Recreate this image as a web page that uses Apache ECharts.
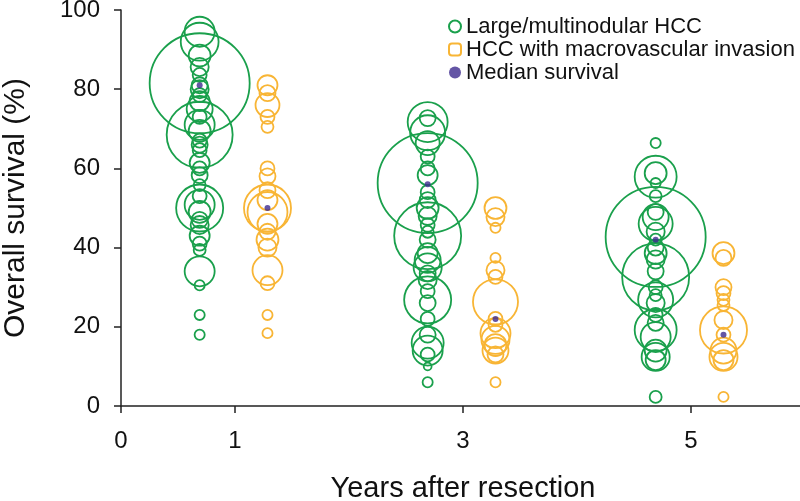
<!DOCTYPE html>
<html>
<head>
<meta charset="utf-8">
<script src="https://cdn.jsdelivr.net/npm/echarts@6/dist/echarts.min.js"></script>
<style>
  html, body { margin: 0; padding: 0; background: #fff; }
  #chart { width: 800px; height: 501px; }
</style>
</head>
<body>
<div id="chart"></div>
<script>
// Overall survival after resection: one bubble per study, bubble area ~ patients (n).
var years = [1, 3, 5];
var xTicks = [0, 1, 3, 5];

// Large/multinodular HCC: [survival %, n]
var largeYear1 = [[94.5, 88], [92, 140], [88.5, 47], [85.6, 32], [83.6, 19], [81.5, 977], [81, 25], [80, 32],
  [78.5, 19], [77, 39], [75, 66], [73, 19], [71, 88], [69.5, 47], [68.5, 425], [67, 19], [66, 25], [64.6, 19],
  [61.4, 39], [60, 19], [58.3, 25], [55.8, 14], [53, 19], [50.8, 88], [50, 216], [49, 47], [47, 25], [45.7, 32],
  [43, 39], [41, 19], [39.4, 14], [34, 88], [30.5, 10], [23, 10], [18, 10]];
var largeYear3 = [[72.7, 25], [71.7, 156], [69, 120], [66.4, 56], [63, 19], [60, 19], [58.3, 39], [56.3, 977],
  [54, 19], [52, 25], [50, 47], [48, 32], [45.7, 19], [44, 14], [43, 438], [42, 25], [38.6, 39], [36.9, 66],
  [35, 77], [33.5, 25], [31.8, 32], [29, 19], [26.8, 216], [26, 25], [22, 19], [18, 25], [16, 100], [14, 88],
  [13, 19], [10, 6], [6, 10]];
var largeYear5 = [[66.4, 10], [58.8, 47], [57.9, 172], [56.3, 10], [53, 14], [49, 25], [47.7, 66], [46, 113],
  [44, 32], [42.7, 977], [42, 14], [40, 25], [38.6, 47], [37, 32], [34, 25], [32.6, 438], [30, 19], [28, 14],
  [26.8, 120], [26, 32], [23, 19], [21, 25], [19.2, 172], [17.4, 88], [14, 47], [12.4, 77], [11.6, 39], [2.3, 14]];

// HCC with macrovascular invasion: [survival %, n]
var mviYear1 = [[81, 39], [79, 25], [76, 56], [73, 19], [70.5, 14], [60, 19], [58, 25], [54.5, 25], [52, 39],
  [50, 216], [49, 156], [46, 39], [44, 25], [42, 47], [40, 32], [34.3, 88], [31, 19], [23, 10], [18.4, 10]];
var mviYear3 = [[50, 47], [47.7, 32], [45, 10], [37.4, 10], [34.3, 32], [32.6, 19], [26.3, 198], [22, 19],
  [20.5, 19], [18.4, 88], [16.7, 77], [15.4, 47], [14, 66], [13, 25], [6, 10]];
var mviYear5 = [[38.6, 47], [37.4, 25], [30, 25], [28.5, 19], [26.8, 14], [25.5, 14], [21.7, 32], [19.2, 216],
  [18, 19], [14, 66], [12.4, 77], [11.6, 39], [2.3, 10]];

var largeMedian = [81, 56, 42];
var mviMedian = [50, 22, 18];

var GREEN = "#1aa04c", ORANGE = "#f8b535", PURPLE = "#3d2b8e";
var FONT = "Liberation Sans, Arial, sans-serif";
var LARGE_DX = -0.31, MVI_DX = 0.285;

function place(groups, dx) {
  var out = [];
  groups.forEach(function (g, i) {
    g.forEach(function (p) { out.push([years[i] + dx, p[0], p[1]]); });
  });
  return out;
}
function medians(vals, dx) {
  return vals.map(function (v, i) { return [years[i] + dx, v]; });
}
function size(v) { return 3.2 * Math.sqrt(v[2]); }

var chart = echarts.init(document.getElementById("chart"));
chart.setOption({
  animation: false,
  backgroundColor: "#fff",
  textStyle: { fontFamily: FONT },
  grid: { left: 121, top: 10, width: 684, height: 396, outerBoundsMode: "none", containLabel: false },
  legend: {
    orient: "vertical", left: 443, top: 10, itemGap: 0,
    itemWidth: 12, itemHeight: 12,
    textStyle: { fontSize: 22, color: "#111", lineHeight: 23, fontFamily: FONT },
    data: [
      { name: "Large/multinodular HCC", icon: "circle",
        itemStyle: { color: "transparent", borderColor: GREEN, borderWidth: 2 } },
      { name: "HCC with macrovascular invasion", icon: "roundRect",
        itemStyle: { color: "transparent", borderColor: ORANGE, borderWidth: 2 } },
      { name: "Median survival", icon: "circle", itemWidth: 6, itemHeight: 6,
        itemStyle: { color: PURPLE, borderWidth: 0 } }
    ]
  },
  xAxis: {
    type: "value", min: 0, max: 6, interval: 1,
    name: "Years after resection", nameLocation: "middle", nameGap: 68,
    nameTextStyle: { fontSize: 29, color: "#111", fontFamily: FONT },
    splitLine: { show: false },
    axisLine: { onZero: false, lineStyle: { color: "#222", width: 1.5 } },
    axisTick: { customValues: xTicks, length: 7, lineStyle: { color: "#222", width: 1.5 } },
    axisLabel: { customValues: xTicks, margin: 23, fontSize: 24, color: "#111", fontFamily: FONT }
  },
  yAxis: {
    type: "value", min: 0, max: 100, interval: 20,
    name: "Overall survival (%)", nameLocation: "middle", nameGap: 90,
    nameTextStyle: { fontSize: 30, color: "#111", fontFamily: FONT },
    splitLine: { show: false },
    axisLine: { show: true, lineStyle: { color: "#222", width: 1.5 } },
    axisTick: { show: true, length: 7, lineStyle: { color: "#222", width: 1.5 } },
    axisLabel: { margin: 21, fontSize: 24, color: "#111", fontFamily: FONT }
  },
  series: [
    { name: "Large/multinodular HCC", type: "scatter", symbol: "circle", symbolSize: size,
      data: place([largeYear1, largeYear3, largeYear5], LARGE_DX),
      itemStyle: { color: "transparent", borderColor: GREEN, borderWidth: 1.8, opacity: 1 },
      emphasis: { disabled: true }, z: 2 },
    { name: "HCC with macrovascular invasion", type: "scatter", symbol: "circle", symbolSize: size,
      data: place([mviYear1, mviYear3, mviYear5], MVI_DX),
      itemStyle: { color: "transparent", borderColor: ORANGE, borderWidth: 1.8, opacity: 1 },
      emphasis: { disabled: true }, z: 2 },
    { name: "Median survival", type: "scatter", symbol: "circle", symbolSize: 6,
      data: medians(largeMedian, LARGE_DX).concat(medians(mviMedian, MVI_DX)),
      itemStyle: { color: PURPLE }, emphasis: { disabled: true }, z: 5 }
  ]
});
</script>
</body>
</html>
